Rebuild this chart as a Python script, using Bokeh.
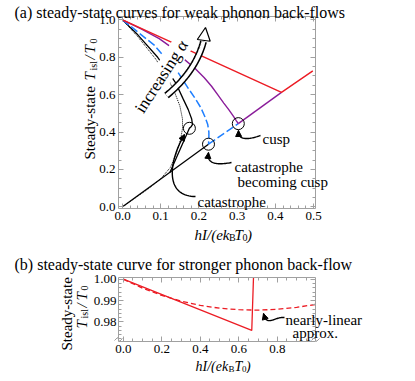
import numpy as np
from math import pi
from bokeh.plotting import figure
from bokeh.models import (Range1d, Label, Arrow, NormalHead, PrintfTickFormatter,
                          LinearAxis, SingleIntervalTicker, FixedTicker)
from bokeh.layouts import column
from bokeh.embed import file_html
from bokeh.resources import INLINE

# ---------------- data: panel (a) ----------------
red_x = [0.0, 0.416, 0.498]
red_y = [1.0, 0.612, 0.727]

purple_x = [0.0, 0.05, 0.096, 0.13, 0.161, 0.19, 0.214, 0.233, 0.249, 0.265, 0.278, 0.29, 0.298, 0.303]
purple_y = [1.0, 0.95, 0.90, 0.85, 0.79, 0.74, 0.69, 0.645, 0.60, 0.555, 0.52, 0.485, 0.46, 0.445]
purple_low_x = [0.303, 0.416]
purple_low_y = [0.445, 0.612]

blue_x = [0.0, 0.04, 0.083, 0.11, 0.142, 0.17, 0.19, 0.205, 0.216, 0.223, 0.226, 0.226, 0.225]
blue_y = [1.0, 0.935, 0.865, 0.80, 0.73, 0.64, 0.58, 0.53, 0.48, 0.44, 0.40, 0.36, 0.335]
blue_low_x = [0.225, 0.303]
blue_low_y = [0.335, 0.445]

black_x = [0.0, 0.04, 0.092, 0.12, 0.14, 0.158, 0.172, 0.181, 0.183, 0.180, 0.175, 0.124]
black_y = [1.0, 0.92, 0.80, 0.72, 0.66, 0.58, 0.52, 0.47, 0.44, 0.43, 0.42, 0.183]
black_low_x = [0.0, 0.225]
black_low_y = [0.0, 0.335]

dotted_x = [0.0, 0.04, 0.087, 0.115, 0.135, 0.15, 0.157, 0.157, 0.152, 0.14, 0.125, 0.10, 0.07, 0.035, 0.0]
dotted_y = [1.0, 0.91, 0.79, 0.70, 0.62, 0.54, 0.47, 0.42, 0.36, 0.28, 0.21, 0.15, 0.10, 0.05, 0.0]

marker_x = [0.175, 0.225, 0.303]
marker_y = [0.42, 0.335, 0.445]

# ---------------- data: panel (b) ----------------
b_solid_x = [0.0, 0.667, 0.676]
b_solid_y = [1.0, 0.976, 1.0008]
b_dash_x = [0.0, 0.1, 0.2, 0.3, 0.4, 0.5, 0.6, 0.7, 0.8, 0.9, 1.0]
b_dash_y = [1.0, 0.9958, 0.9924, 0.9897, 0.9877, 0.9864, 0.9857, 0.9855, 0.9859, 0.9868, 0.9882]

b_xticks = [0.0, 0.2, 0.4, 0.6, 0.8]
b_xminor = [0.05, 0.1, 0.15, 0.25, 0.3, 0.35, 0.45, 0.5, 0.55, 0.65, 0.7, 0.75, 0.85, 0.9, 0.95]

SERIF = "Liberation Serif"
GRAY = "#a0a0a0"
RED = "#ec1c24"
PURPLE = "#8a1c9a"
BLUE = "#1f7fff"

CANVAS_W = 400


def make_panel(height, top_img, box, xr, yr):
    """box = (left, top, width, height) of the plot box in reference pixels;
    top_img = reference pixel row that the canvas top shows."""
    FL, FT, FW, FH = box
    sx = FW / (xr[1] - xr[0])
    sy = FH / (yr[1] - yr[0])
    left_img = 8
    cx0 = xr[0] - (FL - left_img) / sx
    cx1 = xr[1] + (left_img + CANVAS_W - FL - FW) / sx
    cy1 = yr[1] + (FT - top_img) / sy
    cy0 = yr[0] - (top_img + height - FT - FH) / sy
    p = figure(width=CANVAS_W, height=height, x_range=Range1d(cx0, cx1), y_range=Range1d(cy0, cy1),
               output_backend="svg", toolbar_location=None,
               x_axis_location=None, y_axis_location=None,
               min_border=0, min_border_left=0, min_border_right=0,
               min_border_top=0, min_border_bottom=0)
    p.xgrid.visible = False
    p.ygrid.visible = False
    p.outline_line_color = None
    p.background_fill_color = "white"
    p.border_fill_color = "white"

    def conv(px, py):
        return xr[0] + (px - FL) / sx, yr[1] - (py - FT) / sy
    return p, conv


def add_axes(p, xr, yr, xtick_fn, ytick_fn, xfmt, yfmt, xstand=3, ystand=3):
    axes = {
        "below": LinearAxis(fixed_location=yr[0], bounds=xr),
        "above": LinearAxis(fixed_location=yr[1], bounds=xr),
        "left": LinearAxis(fixed_location=xr[0], bounds=yr),
        "right": LinearAxis(fixed_location=xr[1], bounds=yr),
    }
    for side, ax in axes.items():
        if side in ("below", "above"):
            ax.ticker = xtick_fn()
            ax.formatter = PrintfTickFormatter(format=xfmt)
            ax.major_label_standoff = xstand
        else:
            ax.ticker = ytick_fn()
            ax.formatter = PrintfTickFormatter(format=yfmt)
            ax.major_label_standoff = ystand
        ax.axis_line_color = GRAY
        ax.major_tick_line_color = GRAY
        ax.minor_tick_line_color = GRAY
        ax.major_tick_in = 5
        ax.major_tick_out = 0
        ax.minor_tick_in = 3
        ax.minor_tick_out = 0
        ax.major_label_text_font = SERIF
        ax.major_label_text_font_size = "13px"
        ax.major_label_text_color = "black"
        if side in ("above", "right"):
            ax.major_label_text_color = None
        p.add_layout(ax, side)


def lab(p, conv, px, py, text, size=15, style="normal", angle=0.0, align="left",
        baseline="alphabetic", bg=None):
    x, y = conv(px, py)
    kw = {}
    if bg is not None:
        kw = dict(background_fill_color=bg, padding=1)
    p.add_layout(Label(x=x, y=y, text=text, text_font=SERIF, text_font_size=f"{size}px",
                       text_font_style=style, angle=angle, text_align=align,
                       text_baseline=baseline, text_color="black", **kw))


def bez(ctrl, n=40):
    pts = np.array(ctrl, float)
    out = []
    for t in np.linspace(0, 1, n):
        q = pts.copy()
        while len(q) > 1:
            q = (1 - t) * q[:-1] + t * q[1:]
        out.append(q[0])
    return np.array(out)


def curved_arrow(p, conv, ctrl, lw=1.4, head=6):
    pts = bez(ctrl)
    xy = [conv(a, b) for a, b in pts]
    p.line([c[0] for c in xy], [c[1] for c in xy], line_color="black", line_width=lw)
    x0, y0 = xy[-5]
    x1, y1 = xy[-1]
    p.add_layout(Arrow(end=NormalHead(size=head, fill_color="black", line_color="black", line_width=1),
                       x_start=x0, y_start=y0, x_end=x1, y_end=y1, line_alpha=0))


# ================= panel (a) =================
A_xr = (-0.0105, 0.505)
A_yr = (-0.009, 1.018)
pA, A = make_panel(243, 4, (126, 20, 197, 192), A_xr, A_yr)
add_axes(pA, A_xr, A_yr,
         lambda: SingleIntervalTicker(interval=0.1, num_minor_ticks=5),
         lambda: SingleIntervalTicker(interval=0.2, num_minor_ticks=4), "%.1f", "%.1f")

pA.line(dotted_x, dotted_y, line_color="black", line_width=1, line_dash="1 1")
pA.line(black_x, black_y, line_color="black", line_width=1.3)
pA.line(black_low_x, black_low_y, line_color="black", line_width=1.3)
pA.line(blue_x, blue_y, line_color=BLUE, line_width=1.5, line_dash="8 3")
pA.line(blue_low_x, blue_low_y, line_color=BLUE, line_width=1.5, line_dash="8 3")
pA.line(purple_x, purple_y, line_color=PURPLE, line_width=1.4)
pA.line(purple_low_x, purple_low_y, line_color=PURPLE, line_width=1.4)
pA.line(red_x, red_y, line_color=RED, line_width=1.4)
pA.scatter(marker_x, marker_y, marker="circle", size=12, fill_color=None,
           line_color="black", line_width=1)

# "increasing alpha" text and hollow arrow
lab(pA, A, 169, 80, "increasing α", 17, angle=57 * pi / 180, align="center",
    baseline="middle", bg="white")
hp = bez([(174, 99), (203, 75), (211, 45)])
hxy = [A(a, b) for a, b in hp]
pA.line([c[0] for c in hxy], [c[1] for c in hxy], line_color="black", line_width=7)
pA.line([c[0] for c in hxy], [c[1] for c in hxy], line_color="white", line_width=4)
hx0, hy0 = A(211, 46)
hx1, hy1 = A(213, 31)
pA.add_layout(Arrow(end=NormalHead(size=13, fill_color="white", line_color="black", line_width=1.2),
                    x_start=hx0, y_start=hy0, x_end=hx1, y_end=hy1, line_alpha=0))

# annotation arrows
curved_arrow(pA, A, [(268, 139), (245, 147), (246, 134)])
curved_arrow(pA, A, [(239, 166), (213, 171), (216, 156)])
curved_arrow(pA, A, [(203, 200), (172, 200), (176, 165), (192, 138)])
lab(pA, A, 270, 142, "cusp")
lab(pA, A, 242, 170, "catastrophe")
lab(pA, A, 245, 185, "becoming cusp")
lab(pA, A, 205, 205, "catastrophe")

# title and axis labels
lab(pA, A, 22, 15.5, "(a) steady-state curves for weak phonon back-flows", 16)
lab(pA, A, 97.5, 163, "Steady-state", 15, angle=pi / 2)
lab(pA, A, 97.5, 84, "T", 15, "italic", pi / 2)
lab(pA, A, 100.5, 74, "isl", 10, angle=pi / 2)
lab(pA, A, 97.5, 63, "/", 15, "italic", pi / 2)
lab(pA, A, 97.5, 57, "T", 15, "italic", pi / 2)
lab(pA, A, 100.5, 47, "0", 10, angle=pi / 2)

lab(pA, A, 202, 238, "hI/(ek", 15, "italic")
lab(pA, A, 236.5, 241, "B", 10)
lab(pA, A, 242, 238, "T", 15, "italic")
lab(pA, A, 250, 241, "0", 10)
lab(pA, A, 254.5, 238, ")", 15, "italic")

# ================= panel (b) =================
B_xr = (-0.025, 0.998)
B_yr = (0.9708, 1.0008)
pB, B = make_panel(130, 249, (126, 283, 197, 64), B_xr, B_yr)
add_axes(pB, B_xr, B_yr,
         lambda: FixedTicker(ticks=b_xticks, minor_ticks=b_xminor),
         lambda: SingleIntervalTicker(interval=0.01, num_minor_ticks=5), "%.1f", "%.2f",
         xstand=3, ystand=2)

pB.line(b_dash_x, b_dash_y, line_color=RED, line_width=1.3, line_dash="5 3")
pB.line(b_solid_x, b_solid_y, line_color=RED, line_width=1.3)

# axis-break marks
for bx in (126, 323):
    zz = [B(bx - 4, 346), B(bx - 1, 343), B(bx + 1, 347), B(bx + 4, 344)]
    pB.line([c[0] for c in zz], [c[1] for c in zz], line_color=GRAY, line_width=1)

curved_arrow(pB, B, [(292, 323), (282, 322), (274, 333), (271, 319)])
lab(pB, B, 293, 325.5, "nearly-linear", 15)
lab(pB, B, 300, 338, "approx.", 15)

lab(pB, B, 22, 270, "(b) steady-state curve for stronger phonon back-flow", 16)
lab(pB, B, 74, 356, "Steady-state", 15, angle=pi / 2)
lab(pB, B, 89, 334, "T", 15, "italic", pi / 2)
lab(pB, B, 92, 324, "isl", 10, angle=pi / 2)
lab(pB, B, 89, 313, "/", 15, "italic", pi / 2)
lab(pB, B, 89, 306, "T", 15, "italic", pi / 2)
lab(pB, B, 92, 296, "0", 10, angle=pi / 2)

lab(pB, B, 203, 371.5, "hI/(ek", 14, "italic")
lab(pB, B, 236, 374, "B", 9)
lab(pB, B, 242, 371.5, "T", 14, "italic")
lab(pB, B, 249.5, 374, "0", 9)
lab(pB, B, 253.5, 371.5, ")", 14, "italic")

layout = column(pA, pB, spacing=0)
open("out.html", "w").write(file_html(layout, INLINE))
